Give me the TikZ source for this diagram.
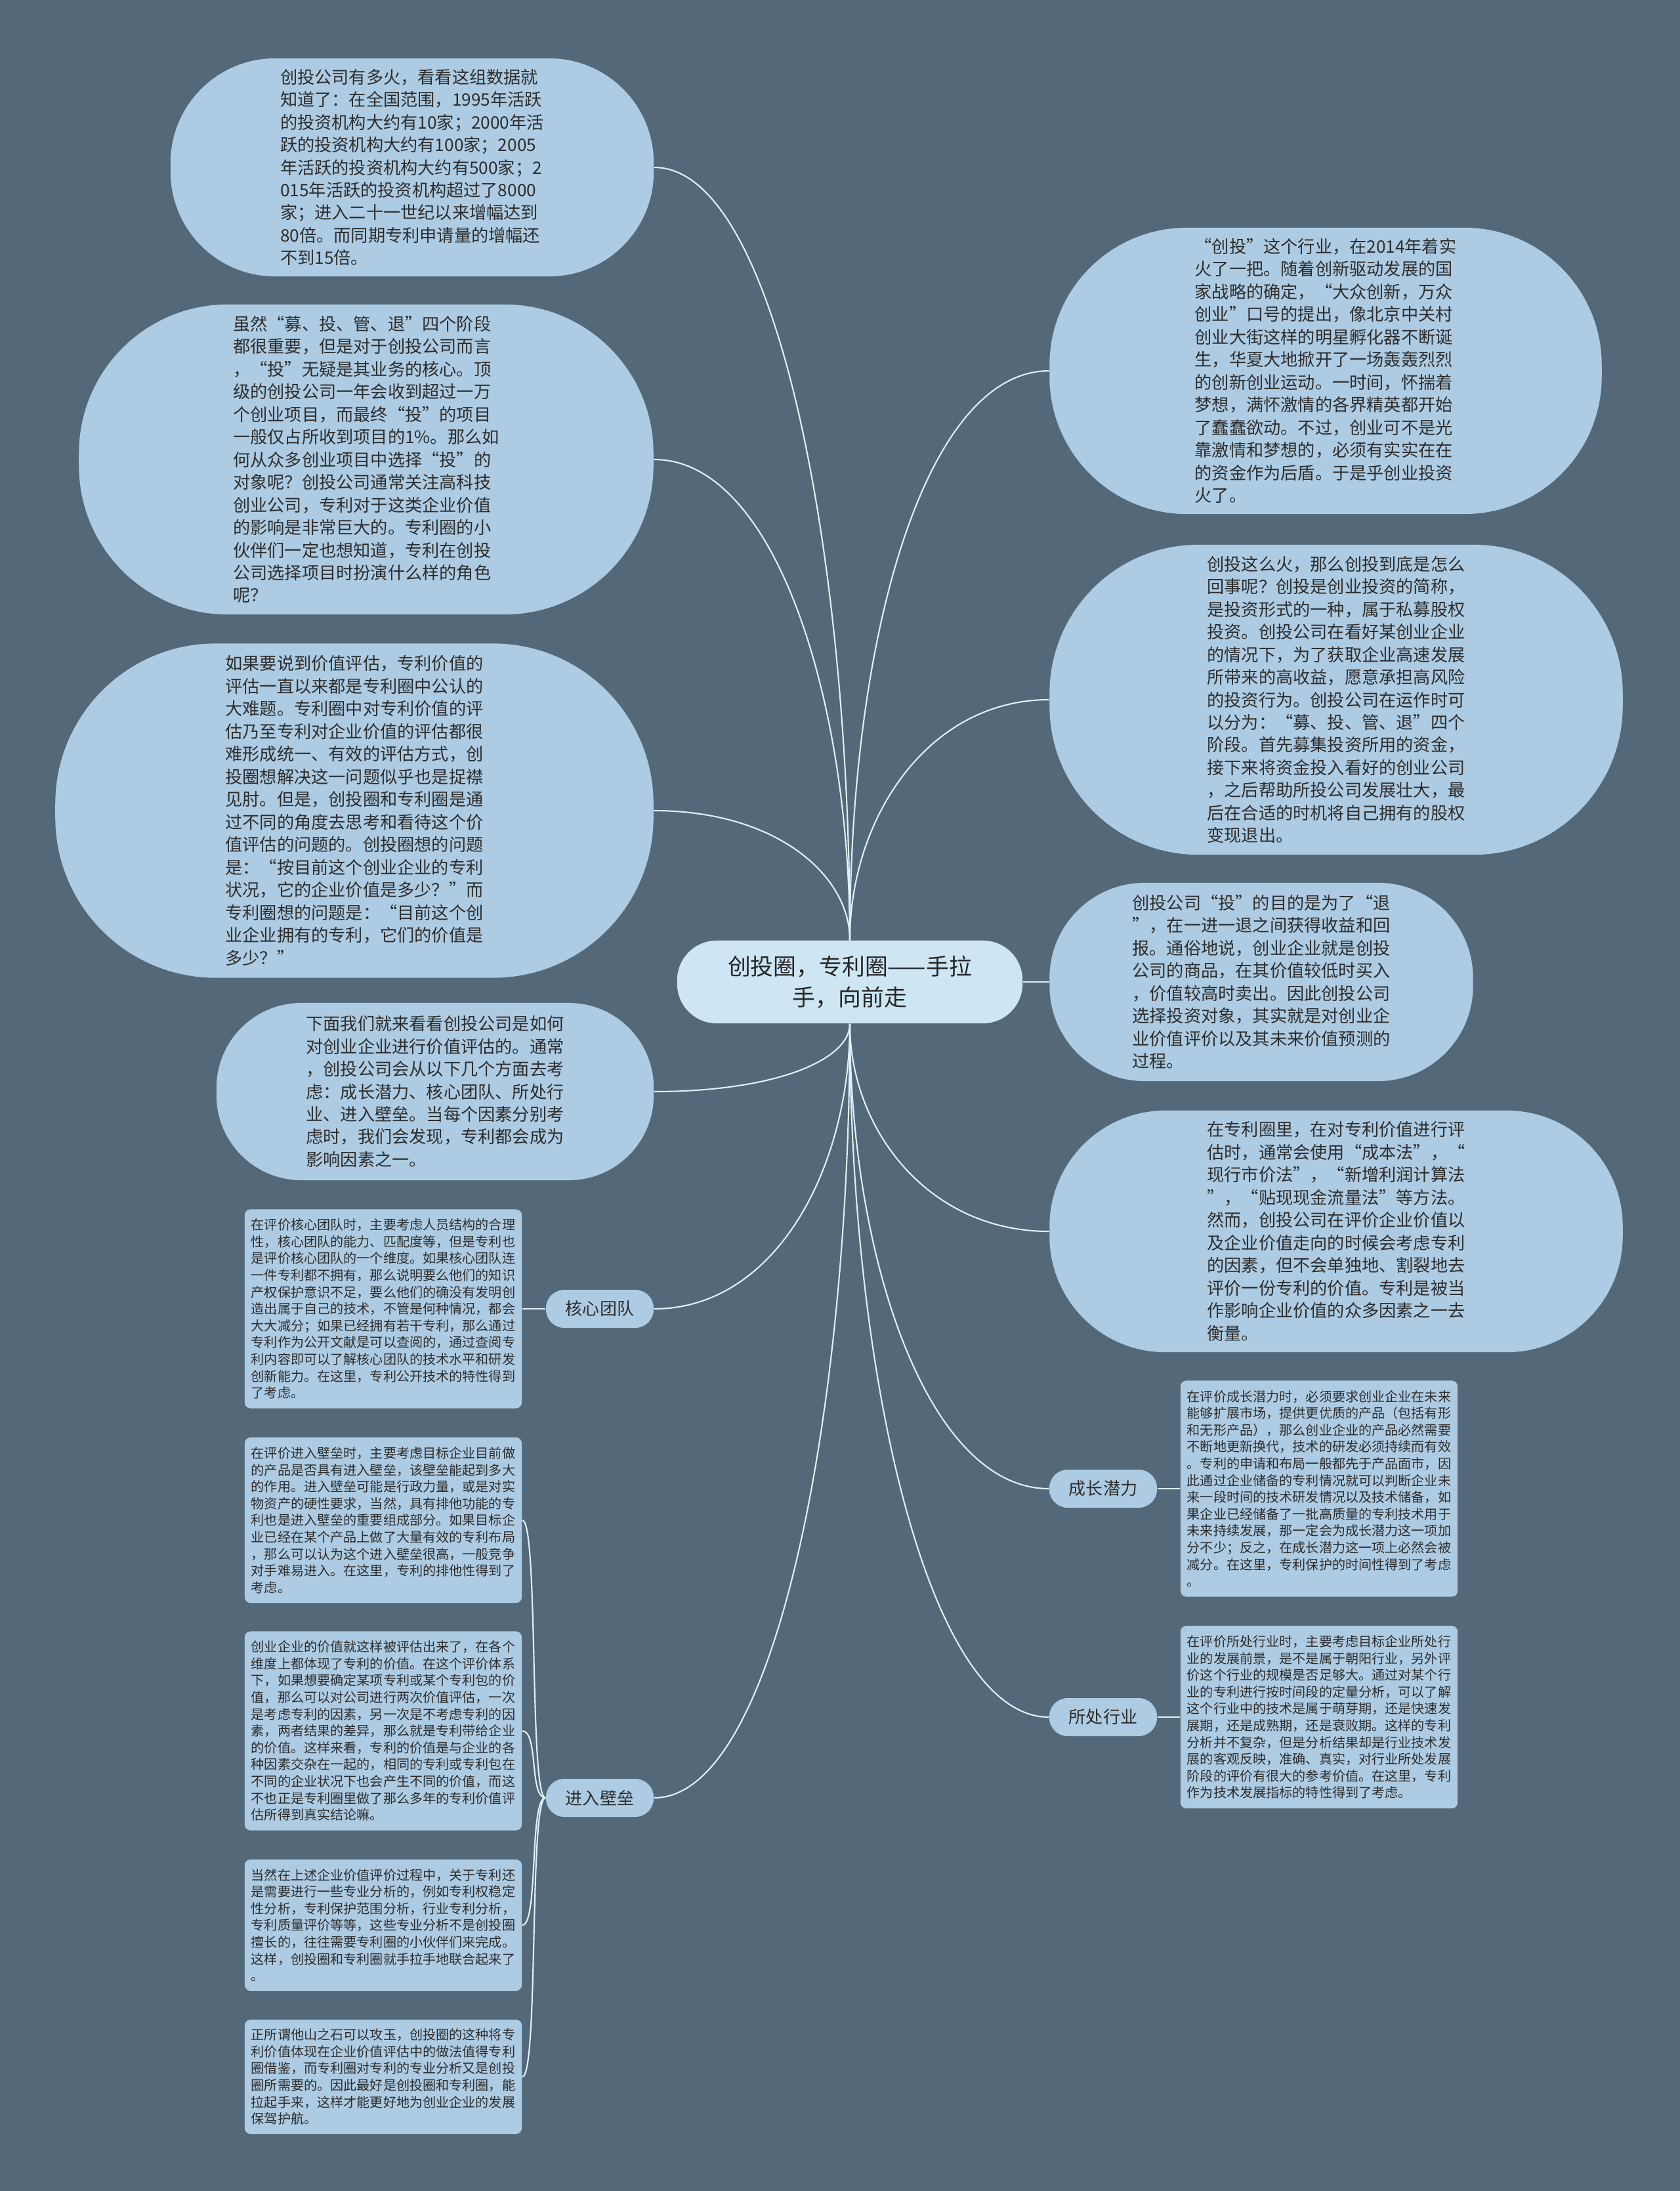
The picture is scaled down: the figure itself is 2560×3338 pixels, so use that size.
\documentclass[tikz,border=0pt]{standalone}
\usepackage{fontspec}
\setmainfont{Noto Sans CJK SC}
\usepackage{tikz}

\definecolor{bgcol}{RGB}{83,105,121}
\definecolor{bubcol}{RGB}{173,203,226}
\definecolor{rootcol}{RGB}{206,229,243}
\definecolor{linkcol}{RGB}{222,240,250}
\definecolor{txtcol}{RGB}{45,45,45}

\newcommand{\bubfont}{\fontsize{7.45pt}{9.8pt}\selectfont}
\newcommand{\boxfont}{\fontsize{5.72pt}{7.28pt}\selectfont}

\tikzset{
  bubble/.style 2 args={fill=bubcol, text=txtcol, font=\bubfont, align=left, inner sep=0pt,
    minimum width=#1, minimum height=#2, rounded corners={0.48*#2}},
  notebox/.style={fill=bubcol, text=txtcol, font=\boxfont, align=left, inner sep=0pt,
    minimum width=4.22cm, minimum height=#1, rounded corners=2.5pt},
  subtopic/.style={fill=bubcol, text=txtcol, font=\fontsize{7.4pt}{9pt}\selectfont,
    minimum width=1.64cm, minimum height=0.58cm, rounded corners=0.28cm, inner sep=0pt},
  link/.style={draw=linkcol, line width=0.6pt}
}

\begin{document}
\begin{tikzpicture}[x=0.01cm, y=-0.01cm]
\useasboundingbox (0,0) rectangle (2560,3338);
\fill[bgcol] (0,0) rectangle (2560,3338);

% 中心主题
\node[fill=rootcol, text=black!85, font=\fontsize{9.9pt}{13.4pt}\selectfont, align=center,
  minimum width=5.26cm, minimum height=1.26cm, rounded corners=0.6cm, inner sep=0pt]
  (root) at (1295,1496) {创投圈，专利圈——手拉\\手，向前走};

% 左侧
\node[bubble={7.36cm}{3.32cm}] (l1) at (628,255) {创投公司有多火，看看这组数据就\\
知道了：在全国范围，1995年活跃\\
的投资机构大约有10家；2000年活\\
跃的投资机构大约有100家；2005\\
年活跃的投资机构大约有500家；2\\
015年活跃的投资机构超过了8000\\
家；进入二十一世纪以来增幅达到\\
80倍。而同期专利申请量的增幅还\\
不到15倍。};
\node[bubble={8.75cm}{4.72cm}] (l2) at (558,700) {虽然“募、投、管、退”四个阶段\\
都很重要，但是对于创投公司而言\\
，“投”无疑是其业务的核心。顶\\
级的创投公司一年会收到超过一万\\
个创业项目，而最终“投”的项目\\
一般仅占所收到项目的1\%。那么如\\
何从众多创业项目中选择“投”的\\
对象呢？创投公司通常关注高科技\\
创业公司，专利对于这类企业价值\\
的影响是非常巨大的。专利圈的小\\
伙伴们一定也想知道，专利在创投\\
公司选择项目时扮演什么样的角色\\
呢？};
\node[bubble={9.11cm}{5.09cm}] (l3) at (540,1235) {如果要说到价值评估，专利价值的\\
评估一直以来都是专利圈中公认的\\
大难题。专利圈中对专利价值的评\\
估乃至专利对企业价值的评估都很\\
难形成统一、有效的评估方式，创\\
投圈想解决这一问题似乎也是捉襟\\
见肘。但是，创投圈和专利圈是通\\
过不同的角度去思考和看待这个价\\
值评估的问题的。创投圈想的问题\\
是：“按目前这个创业企业的专利\\
状况，它的企业价值是多少？”而\\
专利圈想的问题是：“目前这个创\\
业企业拥有的专利，它们的价值是\\
多少？”};
\node[bubble={6.66cm}{2.70cm}] (l4) at (663,1663) {下面我们就来看看创投公司是如何\\
对创业企业进行价值评估的。通常\\
，创投公司会从以下几个方面去考\\
虑：成长潜力、核心团队、所处行\\
业、进入壁垒。当每个因素分别考\\
虑时，我们会发现，专利都会成为\\
影响因素之一。};

% 右侧
\node[bubble={8.41cm}{4.36cm}] (r1) at (2020,565) {“创投”这个行业，在2014年着实\\
火了一把。随着创新驱动发展的国\\
家战略的确定，“大众创新，万众\\
创业”口号的提出，像北京中关村\\
创业大街这样的明星孵化器不断诞\\
生，华夏大地掀开了一场轰轰烈烈\\
的创新创业运动。一时间，怀揣着\\
梦想，满怀激情的各界精英都开始\\
了蠢蠢欲动。不过，创业可不是光\\
靠激情和梦想的，必须有实实在在\\
的资金作为后盾。于是乎创业投资\\
火了。};
\node[bubble={8.73cm}{4.72cm}] (r2) at (2036,1066) {创投这么火，那么创投到底是怎么\\
回事呢？创投是创业投资的简称，\\
是投资形式的一种，属于私募股权\\
投资。创投公司在看好某创业企业\\
的情况下，为了获取企业高速发展\\
所带来的高收益，愿意承担高风险\\
的投资行为。创投公司在运作时可\\
以分为：“募、投、管、退”四个\\
阶段。首先募集投资所用的资金，\\
接下来将资金投入看好的创业公司\\
，之后帮助所投公司发展壮大，最\\
后在合适的时机将自己拥有的股权\\
变现退出。};
\node[bubble={6.45cm}{3.02cm}] (r3) at (1922,1496) {创投公司“投”的目的是为了“退\\
”，在一进一退之间获得收益和回\\
报。通俗地说，创业企业就是创投\\
公司的商品，在其价值较低时买入\\
，价值较高时卖出。因此创投公司\\
选择投资对象，其实就是对创业企\\
业价值评价以及其未来价值预测的\\
过程。};
\node[bubble={8.73cm}{3.68cm}] (r4) at (2036,1876) {在专利圈里，在对专利价值进行评\\
估时，通常会使用“成本法”，“\\
现行市价法”，“新增利润计算法\\
”，“贴现现金流量法”等方法。\\
然而，创投公司在评价企业价值以\\
及企业价值走向的时候会考虑专利\\
的因素，但不会单独地、割裂地去\\
评价一份专利的价值。专利是被当\\
作影响企业价值的众多因素之一去\\
衡量。};

% 四个因素
\node[subtopic] (hx) at (914,1994) {核心团队};
\node[subtopic] (jr) at (914,2739) {进入壁垒};
\node[subtopic] (cz) at (1681,2268) {成长潜力};
\node[subtopic] (sc) at (1681,2616) {所处行业};

\node[notebox=3.03cm] (hxbox) at (584,1994) {在评价核心团队时，主要考虑人员结构的合理\\
性，核心团队的能力、匹配度等，但是专利也\\
是评价核心团队的一个维度。如果核心团队连\\
一件专利都不拥有，那么说明要么他们的知识\\
产权保护意识不足，要么他们的确没有发明创\\
造出属于自己的技术，不管是何种情况，都会\\
大大减分；如果已经拥有若干专利，那么通过\\
专利作为公开文献是可以查阅的，通过查阅专\\
利内容即可以了解核心团队的技术水平和研发\\
创新能力。在这里，专利公开技术的特性得到\\
了考虑。};
\node[notebox=2.52cm] (e1) at (584,2316) {在评价进入壁垒时，主要考虑目标企业目前做\\
的产品是否具有进入壁垒，该壁垒能起到多大\\
的作用。进入壁垒可能是行政力量，或是对实\\
物资产的硬性要求，当然，具有排他功能的专\\
利也是进入壁垒的重要组成部分。如果目标企\\
业已经在某个产品上做了大量有效的专利布局\\
，那么可以认为这个进入壁垒很高，一般竞争\\
对手难易进入。在这里，专利的排他性得到了\\
考虑。};
\node[notebox=3.03cm] (e2) at (584,2637) {创业企业的价值就这样被评估出来了，在各个\\
维度上都体现了专利的价值。在这个评价体系\\
下，如果想要确定某项专利或某个专利包的价\\
值，那么可以对公司进行两次价值评估，一次\\
是考虑专利的因素，另一次是不考虑专利的因\\
素，两者结果的差异，那么就是专利带给企业\\
的价值。这样来看，专利的价值是与企业的各\\
种因素交杂在一起的，相同的专利或专利包在\\
不同的企业状况下也会产生不同的价值，而这\\
不也正是专利圈里做了那么多年的专利价值评\\
估所得到真实结论嘛。};
\node[notebox=2.00cm] (e3) at (584,2933) {当然在上述企业价值评价过程中，关于专利还\\
是需要进行一些专业分析的，例如专利权稳定\\
性分析，专利保护范围分析，行业专利分析，\\
专利质量评价等等，这些专业分析不是创投圈\\
擅长的，往往需要专利圈的小伙伴们来完成。\\
这样，创投圈和专利圈就手拉手地联合起来了\\
。};
\node[notebox=1.74cm] (e4) at (584,3164) {正所谓他山之石可以攻玉，创投圈的这种将专\\
利价值体现在企业价值评估中的做法值得专利\\
圈借鉴，而专利圈对专利的专业分析又是创投\\
圈所需要的。因此最好是创投圈和专利圈，能\\
拉起手来，这样才能更好地为创业企业的发展\\
保驾护航。};
\node[notebox=3.29cm] (czbox) at (2010,2268) {在评价成长潜力时，必须要求创业企业在未来\\
能够扩展市场，提供更优质的产品（包括有形\\
和无形产品），那么创业企业的产品必然需要\\
不断地更新换代，技术的研发必须持续而有效\\
。专利的申请和布局一般都先于产品面市，因\\
此通过企业储备的专利情况就可以判断企业未\\
来一段时间的技术研发情况以及技术储备，如\\
果企业已经储备了一批高质量的专利技术用于\\
未来持续发展，那一定会为成长潜力这一项加\\
分不少；反之，在成长潜力这一项上必然会被\\
减分。在这里，专利保护的时间性得到了考虑\\
。};
\node[notebox=2.78cm] (scbox) at (2010,2616) {在评价所处行业时，主要考虑目标企业所处行\\
业的发展前景，是不是属于朝阳行业，另外评\\
价这个行业的规模是否足够大。通过对某个行\\
业的专利进行按时间段的定量分析，可以了解\\
这个行业中的技术是属于萌芽期，还是快速发\\
展期，还是成熟期，还是衰败期。这样的专利\\
分析并不复杂，但是分析结果却是行业技术发\\
展的客观反映，准确、真实，对行业所处发展\\
阶段的评价有很大的参考价值。在这里，专利\\
作为技术发展指标的特性得到了考虑。};

% 连线
\foreach \n/\a in {l1/590, l2/365, l3/100}
  \draw[link] (root.north) .. controls +(0,-\a) and +(185,0) .. (\n.east);
\foreach \n/\a in {r1/475, r2/185}
  \draw[link] (root.north) .. controls +(0,-\a) and +(-185,0) .. (\n.west);
\draw[link] (root.east) -- (r3.west);
\foreach \n/\a in {l4/55, hx/220, jr/590}
  \draw[link] (root.south) .. controls +(0,\a) and +(185,0) .. (\n.east);
\foreach \n/\a in {r4/160, cz/355, sc/530}
  \draw[link] (root.south) .. controls +(0,\a) and +(-185,0) .. (\n.west);
\draw[link] (hx.west) -- (hxbox.east);
\draw[link] (cz.east) -- (czbox.west);
\draw[link] (sc.east) -- (scbox.west);
\foreach \n in {e1,e2,e3,e4}
  \draw[link] (jr.west) .. controls +(-25,0) and +(25,0) .. (\n.east);
\end{tikzpicture}
\end{document}
